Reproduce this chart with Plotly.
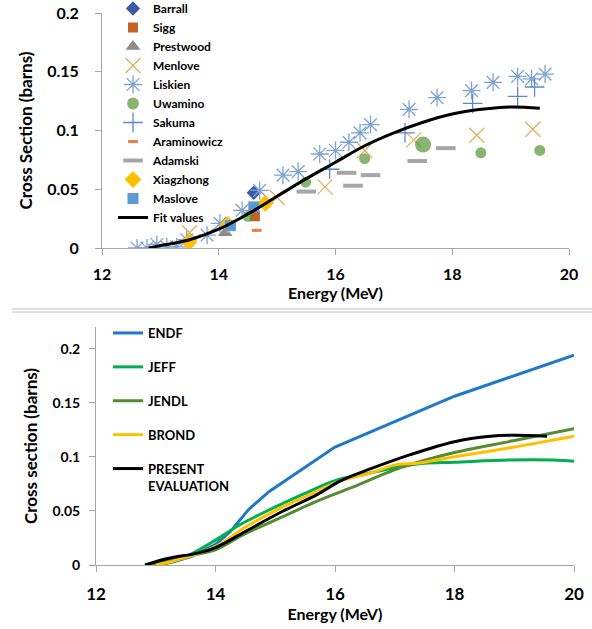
import plotly.graph_objects as go

# ---------------- Top panel: experimental data ----------------
barrall_e = [14.60]
barrall_s = [0.047]
sigg_e = [14.62]
sigg_s = [0.027]
prestwood_e = [14.11]
prestwood_s = [0.013]
menlove_e = [13.50, 15.00, 15.82, 16.50, 17.34, 18.42, 19.38]
menlove_s = [0.013, 0.043, 0.052, 0.083, 0.092, 0.096, 0.101]
liskien_e = [12.60, 12.77, 12.94, 13.11, 13.28, 13.45, 13.80, 14.02, 14.40, 14.70, 15.10,
             15.36, 15.73, 16.00, 16.23, 16.42, 16.60, 17.26, 17.74, 18.33, 18.70, 19.12,
             19.36, 19.59]
liskien_s = [0.000, 0.000, 0.003, 0.001, 0.001, 0.007, 0.011, 0.021, 0.032, 0.049, 0.062,
             0.065, 0.080, 0.083, 0.090, 0.098, 0.105, 0.118, 0.128, 0.134, 0.141, 0.146,
             0.144, 0.148]
uwamino_e = [14.50, 15.49, 16.50, 17.50, 18.49, 19.50]
uwamino_s = [0.027, 0.056, 0.076, 0.088, 0.081, 0.083]
sakuma_e = [15.90, 17.19, 18.35, 19.12, 19.41]
sakuma_s = [0.067, 0.098, 0.123, 0.129, 0.137]
araminowicz_e = [14.65]
araminowicz_s = [0.015]
adamski_e = [15.50, 16.19, 16.30, 16.60, 17.40, 17.89]
adamski_s = [0.048, 0.064, 0.053, 0.062, 0.074, 0.085]
xiagzhong_e = [13.49, 14.16, 14.80]
xiagzhong_s = [0.005, 0.020, 0.038]
maslove_e = [14.20, 14.60]
maslove_s = [0.019, 0.035]
fit_e = [12.8, 13.0, 13.5, 14.0, 14.5, 15.0, 15.5, 16.0, 16.5, 17.0, 17.5, 18.0, 18.5, 19.0, 19.5]
fit_s = [0.000, 0.002, 0.007, 0.016, 0.029, 0.044, 0.059, 0.073, 0.087, 0.098, 0.107, 0.114,
         0.118, 0.120, 0.119]

# ---------------- Bottom panel: evaluations ----------------
endf_e = [13.0, 13.3, 13.6, 14.0, 14.25, 14.55, 14.9, 15.4, 16.0, 18.0, 20.0]
endf_s = [0.000, 0.003, 0.008, 0.019, 0.031, 0.051, 0.068, 0.087, 0.109, 0.156, 0.194]
jeff_e = [13.1, 13.55, 14.0, 14.4, 14.9, 15.45, 16.0, 16.5, 17.1, 17.5, 18.0, 18.9, 19.65, 20.0]
jeff_s = [0.000, 0.009, 0.023, 0.037, 0.051, 0.065, 0.078, 0.084, 0.091, 0.094, 0.095, 0.097,
          0.097, 0.096]
jendl_e = [12.9, 13.2, 13.6, 14.0, 14.5, 15.1, 15.7, 16.25, 17.1, 18.0, 19.0, 20.0]
jendl_s = [0.000, 0.004, 0.009, 0.014, 0.029, 0.044, 0.059, 0.071, 0.090, 0.104, 0.115, 0.126]
brond_e = [13.0, 13.25, 14.0, 14.5, 15.1, 15.7, 16.1, 16.6, 17.04, 17.37, 18.0, 19.0, 20.0]
brond_s = [0.000, 0.003, 0.017, 0.035, 0.053, 0.068, 0.078, 0.085, 0.093, 0.094, 0.100, 0.109,
           0.119]
present_e = [12.82, 13.2, 13.7, 14.0, 14.5, 15.1, 15.7, 16.1, 16.6, 17.26, 18.0, 18.6, 19.0, 19.55]
present_s = [0.000, 0.006, 0.011, 0.016, 0.031, 0.049, 0.065, 0.078, 0.089, 0.102, 0.114, 0.119,
             0.120, 0.119]

x_ticks = [12, 14, 16, 18, 20]

FONT = "Lato"
AXIS_GRAY = "#A6A6A6"

fig = go.Figure()

def pts(name, x, y, symbol, color, size, lw=1.5, sizes=None):
    fig.add_trace(go.Scatter(
        x=x, y=y, mode="markers", name=name, legend="legend",
        xaxis="x", yaxis="y",
        marker=dict(symbol=symbol, color=color, size=sizes if sizes else size,
                    line=dict(width=lw, color=color)),
    ))

pts("Barrall", barrall_e, barrall_s, "diamond", "#3C5AA6", 11, 0)
pts("Sigg", sigg_e, sigg_s, "square", "#C5622A", 10, 0)
pts("Prestwood", prestwood_e, prestwood_s, "triangle-up", "#8C8C8C", 13, 0)
pts("Menlove", menlove_e, menlove_s, "x-thin-open", "#E2B060", 15, 1.3)
pts("Liskien", liskien_e, liskien_s, "asterisk-open", "#7FA2D2", 15, 1.3)
pts("Uwamino", uwamino_e, uwamino_s, "circle", "#559535", 10, 0, sizes=[11, 11, 11, 16, 11, 11])
pts("Sakuma", sakuma_e, sakuma_s, "cross-thin-open", "#5B88CF", 14, 1.3)
pts("Araminowicz", araminowicz_e, araminowicz_s, "line-ew-open", "#F07E3A", 7, 3)
pts("Adamski", adamski_e, adamski_s, "line-ew-open", "#A6A6A6", 14, 4)
pts("Xiagzhong", xiagzhong_e, xiagzhong_s, "diamond", "#FFC000", 13, 0)
pts("Maslove", maslove_e, maslove_s, "square", "#5B9BD5", 11, 0)

fig.add_trace(go.Scatter(
    x=fit_e, y=fit_s, mode="lines", name="Fit values", legend="legend",
    xaxis="x", yaxis="y", line=dict(color="black", width=3, shape="spline"),
))

def curve(name, x, y, color, shape="linear"):
    fig.add_trace(go.Scatter(
        x=x, y=y, mode="lines", name=name, legend="legend2", legendgroup=name,
        xaxis="x2", yaxis="y2", line=dict(color=color, width=3, shape=shape),
    ))

curve("ENDF", endf_e, endf_s, "#1F78C8")
curve("JEFF", jeff_e, jeff_s, "#00B050", "spline")
curve("JENDL", jendl_e, jendl_s, "#558B32", "spline")
curve("BROND", brond_e, brond_s, "#FFC000", "spline")
curve("PRESENT<br>EVALUATION", present_e, present_s, "black", "spline")

W, H = 592, 629

def xd(a, b):
    return [a / W, b / W]

def yd(top, bottom):
    return [1 - bottom / H, 1 - top / H]

def py(p):
    return 1 - p / H

axis_common = dict(showgrid=False, zeroline=False, showline=True, linecolor=AXIS_GRAY,
                   linewidth=1, ticks="outside", tickcolor=AXIS_GRAY, ticklen=6,
                   tickwidth=1, automargin=False)

fig.update_layout(
    width=W, height=H,
    margin=dict(l=0, r=0, t=0, b=0, autoexpand=False),
    paper_bgcolor="white", plot_bgcolor="white",
    font=dict(family=FONT, color="black"),
    xaxis=dict(domain=xd(102, 569), range=[12, 20], tickvals=x_ticks, anchor="y",
               tickfont=dict(size=16, weight="bold"), ticklabelstandoff=6,
               title=dict(text="Energy (MeV)", font=dict(size=16, weight="bold"), standoff=2),
               **axis_common),
    yaxis=dict(domain=yd(13, 248), range=[0, 0.2], dtick=0.05, anchor="x",
               tickfont=dict(size=16, weight="bold"), ticklabelstandoff=13,
               ticklabeloverflow="allow",
               title=dict(text="Cross Section (barns)", font=dict(size=17, weight="bold"), standoff=10),
               **axis_common),
    xaxis2=dict(domain=xd(96, 574), range=[12, 20], tickvals=x_ticks, anchor="y2",
                tickfont=dict(size=17, weight="bold"), ticklabelstandoff=8,
                title=dict(text="Energy (MeV)", font=dict(size=16, weight="bold"), standoff=2),
                **axis_common),
    yaxis2=dict(domain=yd(327, 565), range=[0, 0.22], dtick=0.05, anchor="x2",
                tickfont=dict(size=14, weight="bold"), ticklabelstandoff=6,
                title=dict(text="Cross section (barns)", font=dict(size=17, weight="bold"), standoff=10),
                **axis_common),
    legend=dict(x=113 / W, y=py(-6), xanchor="left", yanchor="top",
                bgcolor="rgba(0,0,0,0)", font=dict(size=12, weight="bold", family=FONT),
                tracegroupgap=0),
    legend2=dict(x=108 / W, y=py(318), xanchor="left", yanchor="top",
                 bgcolor="rgba(0,0,0,0)", font=dict(size=13, weight="bold", family=FONT),
                 tracegroupgap=14, valign="top"),
    showlegend=True,
    shapes=[
        dict(type="line", xref="paper", yref="paper", x0=12 / W, x1=1, y0=py(309), y1=py(309),
             line=dict(color="#BFBFBF", width=1)),
        dict(type="line", xref="paper", yref="paper", x0=12 / W, x1=1, y0=py(312), y1=py(312),
             line=dict(color="#BFBFBF", width=1)),
    ],
)

fig.write_html("out.html", config={"displayModeBar": False},
               post_script="document.body.style.margin='0px';")
